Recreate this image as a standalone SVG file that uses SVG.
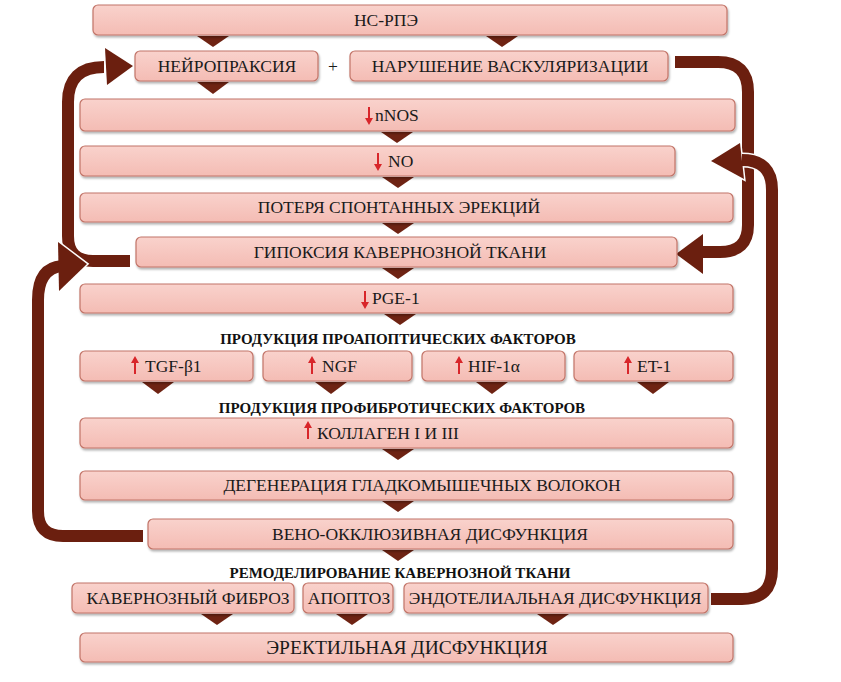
<svg xmlns="http://www.w3.org/2000/svg" xmlns:xlink="http://www.w3.org/1999/xlink" width="841" height="682" viewBox="0 0 841 682">
<style>
.box{fill:url(#bg);stroke:#c27468;stroke-width:1.2;filter:url(#sh)}
.t{font-family:"Liberation Serif","DejaVu Serif",serif;font-size:17.5px;fill:#1a1a1a}
.tl{font-family:"Liberation Serif","DejaVu Serif",serif;font-size:19.5px;fill:#1a1a1a}
.tb{font-family:"Liberation Serif","DejaVu Serif",serif;font-size:15px;font-weight:bold;fill:#111}
.mid{text-anchor:middle}
.tri{fill:#6e2313}
.big{fill:none;stroke:#6b1f0f;stroke-width:12}
.wht{fill:none;stroke:#ffffff;stroke-width:15}
.head{fill:#6b1f0f}
.red{fill:#d8262a}
</style>
<defs>
<linearGradient id="bg" x1="0" y1="0" x2="0" y2="1">
<stop offset="0" stop-color="#f9d2cc"/>
<stop offset="1" stop-color="#f4bcb4"/>
</linearGradient>
<filter id="sh" x="-5%" y="-20%" width="110%" height="150%">
<feDropShadow dx="1" dy="2" stdDeviation="1.2" flood-color="#000" flood-opacity="0.3"/>
</filter>
<g id="up"><path class="red" d="M0,0 L4,7 L1,7 L1,18 L-1,18 L-1,7 L-4,7 Z"/></g>
<g id="dn"><path class="red" d="M0,18 L4,11 L1,11 L1,0 L-1,0 L-1,11 L-4,11 Z"/></g>
</defs>
<rect width="841" height="682" fill="#ffffff"/>

<g id="connectors">
<polygon class="tri" points="197,36 229,36 213,47"/>
<polygon class="tri" points="486,36 518,36 502,47"/>
<polygon class="tri" points="197,82 229,82 213,94"/>
<polygon class="tri" points="381,132 413,132 397,143"/>
<polygon class="tri" points="382,177 414,177 398,188"/>
<polygon class="tri" points="382,223 414,223 398,234"/>
<polygon class="tri" points="382,268 414,268 398,279"/>
<polygon class="tri" points="384,314 416,314 400,325"/>
<polygon class="tri" points="142,382 174,382 158,394"/>
<polygon class="tri" points="315,382 347,382 331,394"/>
<polygon class="tri" points="476,382 508,382 492,394"/>
<polygon class="tri" points="637,382 669,382 653,394"/>
<polygon class="tri" points="382,449 414,449 398,460"/>
<polygon class="tri" points="382,501 414,501 398,512"/>
<polygon class="tri" points="382,550 414,550 398,561"/>
<polygon class="tri" points="201,614 233,614 217,625"/>
<polygon class="tri" points="336,614 368,614 352,625"/>
<polygon class="tri" points="537,614 569,614 553,625"/>

<path class="big" d="M130,261 H93 Q68,261 68,236 V102 Q68,67 104,67"/>
<polygon class="head" points="133,66 105,48 107,85"/>

<path class="big" d="M675,62 H718 Q748,62 748,92 V225 Q748,252 720,252 H700"/>
<polygon class="head" points="676,254 703,234 703,274"/>

<path class="wht" d="M772,210 V190 Q772,160 742,160"/>
<polygon points="711,161 740,143 744,179" fill="none" stroke="#ffffff" stroke-width="3"/>
<path class="big" d="M711,599 H742 Q772,599 772,569 V190 Q772,160 742,160"/>
<polygon class="head" points="711,161 740,143 744,179"/>

<path class="wht" d="M38,290 Q38,268 62,266"/>
<polygon points="87,264 58,242 59,291" fill="none" stroke="#ffffff" stroke-width="3"/>
<path class="big" d="M143,536 H63 Q38,536 38,511 V300 Q38,268 62,266"/>
<polygon class="head" points="87,264 58,242 59,291"/>
</g>

<g id="ns-rpe"><rect class="box" x="93" y="5" width="634" height="30" rx="5"/><text class="t mid" x="386" y="26">НС-РПЭ</text></g>
<g id="neuropraxia"><rect class="box" x="135" y="51" width="183" height="30" rx="5"/><text class="t mid" x="227" y="72">НЕЙРОПРАКСИЯ</text></g>
<text class="t mid" x="333" y="72">+</text>
<g id="vascular"><rect class="box" x="350" y="51" width="318" height="30" rx="5"/><text class="t mid" x="510" y="72">НАРУШЕНИЕ ВАСКУЛЯРИЗАЦИИ</text></g>
<g id="nnos"><rect class="box" x="80" y="99" width="655" height="32" rx="5"/><use xlink:href="#dn" x="369" y="107"/><text class="t" x="375" y="121">nNOS</text></g>
<g id="no"><rect class="box" x="80" y="146" width="595" height="30" rx="5"/><use xlink:href="#dn" x="378" y="153"/><text class="t" x="388" y="167">NO</text></g>
<g id="loss"><rect class="box" x="80" y="193" width="653" height="29" rx="5"/><text class="t mid" x="399" y="213">ПОТЕРЯ СПОНТАННЫХ ЭРЕКЦИЙ</text></g>
<g id="hypoxia"><rect class="box" x="136" y="237" width="541" height="30" rx="5"/><text class="t mid" x="400" y="258">ГИПОКСИЯ КАВЕРНОЗНОЙ ТКАНИ</text></g>
<g id="pge1"><rect class="box" x="80" y="284" width="653" height="29" rx="5"/><use xlink:href="#dn" x="365" y="291"/><text class="t" x="372" y="304">PGE-1</text></g>
<text class="tb mid" x="398" y="344">ПРОДУКЦИЯ ПРОАПОПТИЧЕСКИХ ФАКТОРОВ</text>
<g id="tgf"><rect class="box" x="80" y="351" width="173" height="30" rx="5"/><use xlink:href="#up" x="135" y="356"/><text class="t" x="145" y="372">TGF-β1</text></g>
<g id="ngf"><rect class="box" x="263" y="351" width="149" height="30" rx="5"/><use xlink:href="#up" x="312" y="356"/><text class="t" x="322" y="372">NGF</text></g>
<g id="hif"><rect class="box" x="422" y="351" width="143" height="30" rx="5"/><use xlink:href="#up" x="459" y="356"/><text class="t" x="468" y="372">HIF-1α</text></g>
<g id="et1"><rect class="box" x="574" y="351" width="159" height="30" rx="5"/><use xlink:href="#up" x="628" y="356"/><text class="t" x="637" y="372">ET-1</text></g>
<text class="tb mid" x="402" y="413">ПРОДУКЦИЯ ПРОФИБРОТИЧЕСКИХ ФАКТОРОВ</text>
<g id="collagen"><rect class="box" x="80" y="418" width="653" height="30" rx="5"/><use xlink:href="#up" x="308" y="421"/><text class="t" x="317" y="439">КОЛЛАГЕН I И III</text></g>
<g id="degeneration"><rect class="box" x="80" y="471" width="653" height="29" rx="5"/><text class="t mid" x="422" y="491">ДЕГЕНЕРАЦИЯ ГЛАДКОМЫШЕЧНЫХ ВОЛОКОН</text></g>
<g id="veno"><rect class="box" x="148" y="519" width="585" height="30" rx="5"/><text class="t mid" x="430" y="540">ВЕНО-ОККЛЮЗИВНАЯ ДИСФУНКЦИЯ</text></g>
<text class="tb mid" x="400" y="578">РЕМОДЕЛИРОВАНИЕ КАВЕРНОЗНОЙ ТКАНИ</text>
<g id="fibrosis"><rect class="box" x="72" y="583" width="222" height="30" rx="5"/><text class="t mid" x="188" y="604">КАВЕРНОЗНЫЙ ФИБРОЗ</text></g>
<g id="apoptosis"><rect class="box" x="303" y="583" width="90" height="30" rx="5"/><text class="t mid" x="349" y="604">АПОПТОЗ</text></g>
<g id="endothelial"><rect class="box" x="404" y="583" width="304" height="30" rx="5"/><text class="t mid" x="555" y="604">ЭНДОТЕЛИАЛЬНАЯ ДИСФУНКЦИЯ</text></g>
<g id="ed"><rect class="box" x="80" y="633" width="653" height="29" rx="5"/><text class="tl mid" x="407" y="654">ЭРЕКТИЛЬНАЯ ДИСФУНКЦИЯ</text></g>
</svg>
